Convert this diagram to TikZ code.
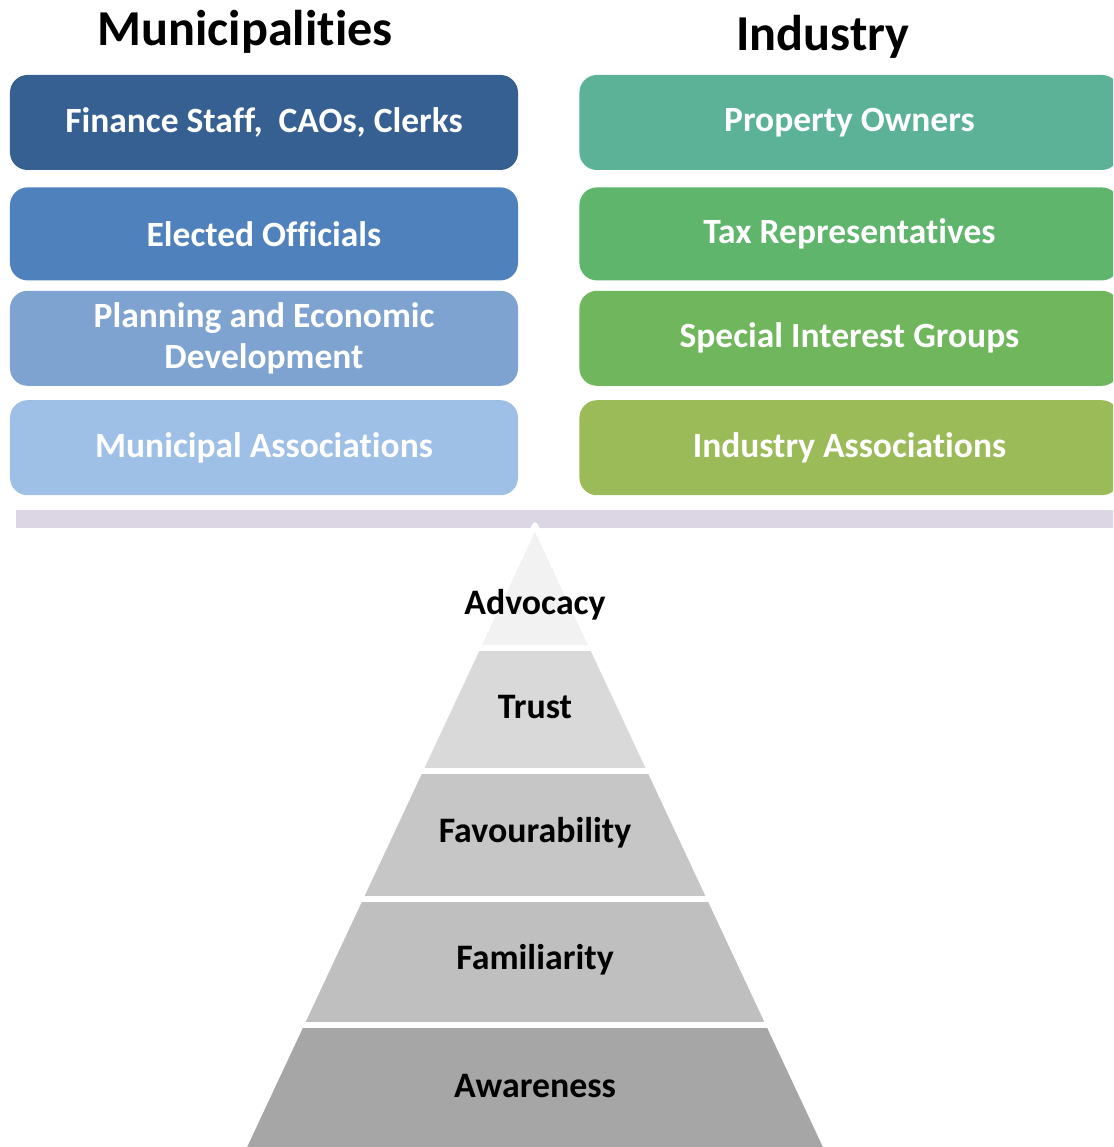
\documentclass[tikz,border=0pt]{standalone}
\usepackage{fontspec}
\setmainfont{Carlito}[Ligatures={NoCommon,NoContextual},
  RawFeature={-liga;-clig;-calt;-ccmp;-dlig}]
\usepackage{xcolor}
\usepackage{tikz}
\usetikzlibrary{positioning}
\definecolor{munidark}{HTML}{366092}
\definecolor{munimid}{HTML}{4F81BD}
\definecolor{munisoft}{HTML}{7FA3D0}
\definecolor{munilight}{HTML}{9EBFE6}
\definecolor{indteal}{HTML}{5BB297}
\definecolor{indgreen}{HTML}{5EB56B}
\definecolor{indleaf}{HTML}{70B65C}
\definecolor{indolive}{HTML}{9BBB59}
\definecolor{beamgray}{HTML}{DCD6E4}
\definecolor{tierA}{HTML}{F2F2F2}
\definecolor{tierB}{HTML}{D9D9D9}
\definecolor{tierC}{HTML}{C6C6C6}
\definecolor{tierD}{HTML}{BFBFBF}
\definecolor{tierE}{HTML}{A6A6A6}

\begin{document}
\begin{tikzpicture}[
  heading/.style={font=\fontsize{14.3}{16}\selectfont\bfseries, inner sep=0pt},
  group/.style={
    rectangle, rounded corners=5pt,
    minimum width=5.08cm, minimum height=0.95cm,
    align=center, text=white, inner sep=0pt,
    font=\fontsize{10.1}{11.5}\selectfont\bfseries
  },
  sector/.style={group, minimum width=5.4cm},
  beam/.style={rectangle, fill=beamgray, minimum width=11.1cm,
    minimum height=0.18cm, inner sep=0pt, anchor=west},
  tier/.style={font=\fontsize{10.2}{12}\selectfont\bfseries, inner sep=0pt}
]
\clip (0,0) rectangle (11.13,-11.47);

% Column headings
\node[heading] (muni) at (2.45,-0.32) {Municipalities};
\node[heading] (ind)  at (8.23,-0.37) {Industry};

% Municipal stakeholders
\node[group, fill=munidark] (finance) at (2.64,-1.225)
      {Finance Staff,~ CAOs, Clerks};
\node[group, fill=munimid, minimum height=0.93cm,
      below=0.16cm of finance] (elected) {Elected Officials};
\node[group, fill=munisoft, below=0.09cm of elected] (planning)
      {Planning and Economic\\Development};
\node[group, fill=munilight, below=0.13cm of planning] (muniassoc)
      {Municipal Associations};

% Industry stakeholders
\node[sector, fill=indteal, right=0.6cm of finance] (owners)
      {Property Owners};
\node[sector, fill=indgreen, minimum height=0.93cm,
      below=0.16cm of owners] (taxrep) {Tax Representatives};
\node[sector, fill=indleaf, below=0.09cm of taxrep] (interest)
      {Special Interest Groups};
\node[sector, fill=indolive, below=0.13cm of interest] (indassoc)
      {Industry Associations};

% Balance beam
\node[beam] (balance) at (0.15,-5.19) {};

% Pyramid tiers
\foreach \top/\bot/\shade/\ly/\txt in {
    5.25/6.48/tierA/6.05/Advocacy,
    6.48/7.71/tierB/7.07/Trust,
    7.71/8.99/tierC/8.33/Favourability,
    8.99/10.25/tierD/9.60/Familiarity,
    10.25/11.50/tierE/10.86/Awareness}{
  \filldraw[fill=\shade, draw=white, line width=1.6pt, line join=round]
    ({5.35-0.468*(\top-5.25)},-\top) -- ({5.35+0.468*(\top-5.25)},-\top)
    -- ({5.35+0.468*(\bot-5.25)},-\bot) -- ({5.35-0.468*(\bot-5.25)},-\bot)
    -- cycle;
  \node[tier] (\txt) at (5.35,-\ly) {\txt};
}

\end{tikzpicture}
\end{document}
